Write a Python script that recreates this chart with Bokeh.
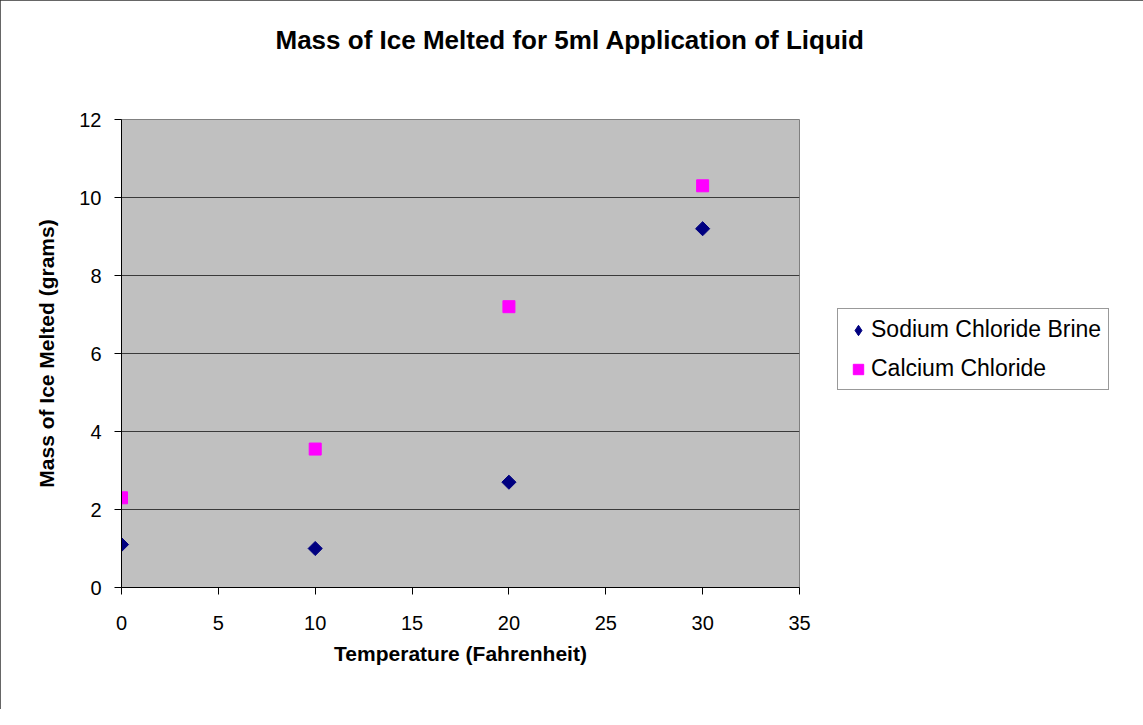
from bokeh.plotting import figure
from bokeh.models import Range1d, FixedTicker, Legend, LegendItem, Title
from bokeh.embed import file_html
from bokeh.resources import INLINE
import math

# ---- data ----
temperature = [0, 10, 20, 30]
sodium_chloride_brine = [1.1, 1.0, 2.7, 9.2]
calcium_chloride = [2.3, 3.55, 7.2, 10.3]
x_ticks = [0, 5, 10, 15, 20, 25, 30, 35]
y_ticks = [0, 2, 4, 6, 8, 10, 12]

FONT = "Liberation Sans"
NAVY = "#000080"
MAGENTA = "#FF00FF"

p = figure(frame_width=678, frame_height=468, output_backend="svg", toolbar_location=None,
           x_range=Range1d(0, 35), y_range=Range1d(0, 12),
           min_border_left=121, min_border_right=328,
           min_border_top=119, min_border_bottom=122)
p.styles = {"outline": "1px solid #333333", "outline-offset": "-1px"}

p.background_fill_color = "#C0C0C0"
p.border_fill_color = "white"
p.outline_line_color = "#808080"
p.outline_line_width = 1

# grid
p.xgrid.grid_line_color = None
p.ygrid.grid_line_color = "#3a3a3a"
p.ygrid.grid_line_width = 1
p.ygrid.ticker = FixedTicker(ticks=y_ticks)

# axes
for ax in (p.xaxis[0], p.yaxis[0]):
    ax.axis_line_color = "black"
    ax.major_tick_line_color = "black"
    ax.major_tick_out = 7
    ax.major_tick_in = 0
    ax.minor_tick_line_color = None
    ax.major_label_text_font = FONT
    ax.major_label_text_font_size = "20px"
    ax.major_label_text_color = "black"
    ax.axis_label_text_font = FONT
    ax.axis_label_text_font_style = "bold"
    ax.axis_label_text_font_size = "21px"
    ax.axis_label_text_color = "black"

p.xaxis.ticker = FixedTicker(ticks=x_ticks)
p.yaxis.ticker = FixedTicker(ticks=y_ticks)
p.xaxis.axis_label = "Temperature (Fahrenheit)"
p.yaxis.axis_label = "Mass of Ice Melted (grams)"
p.xaxis.major_label_standoff = 21
p.xaxis.axis_label_standoff = 9
p.yaxis.major_label_standoff = 13
p.yaxis.axis_label_standoff = 18

# legend swatch for the diamond series (zero-size in the plot, drawn only in the legend)
r1_key = p.scatter(temperature, sodium_chloride_brine, marker="diamond", size=0,
                   fill_color=NAVY, line_color=NAVY)
# markers
r1 = p.scatter(temperature, sodium_chloride_brine, marker="square", size=10,
               angle=math.pi / 4, fill_color=NAVY, line_color=NAVY)
r2 = p.scatter(temperature, calcium_chloride, marker="square", size=12,
               fill_color=MAGENTA, line_color=MAGENTA)

legend = Legend(items=[LegendItem(label="Sodium Chloride Brine", renderers=[r1_key]),
                       LegendItem(label="Calcium Chloride", renderers=[r2])],
                location=(38, 197))
legend.label_text_font = FONT
legend.label_text_font_size = "23px"
legend.label_text_color = "black"
legend.glyph_width = 26
legend.glyph_height = 26
legend.label_height = 26
legend.label_standoff = 0
legend.spacing = 12
legend.padding = 7
legend.margin = 0
legend.border_line_color = "#333333"
legend.border_line_width = 1
legend.background_fill_color = "white"
legend.background_fill_alpha = 1
p.add_layout(legend, "right")

# spacer between the title and the plot area
p.add_layout(Title(text=" ", text_font_size="10px", standoff=50), "above")
title = Title(text="Mass of Ice Melted for 5ml Application of Liquid",
              text_font=FONT, text_font_style="bold", text_font_size="26px",
              text_color="black", align="left", offset=154,
              vertical_align="top", standoff=0)
p.add_layout(title, "above")

open("out.html", "w").write(file_html(p, INLINE))
